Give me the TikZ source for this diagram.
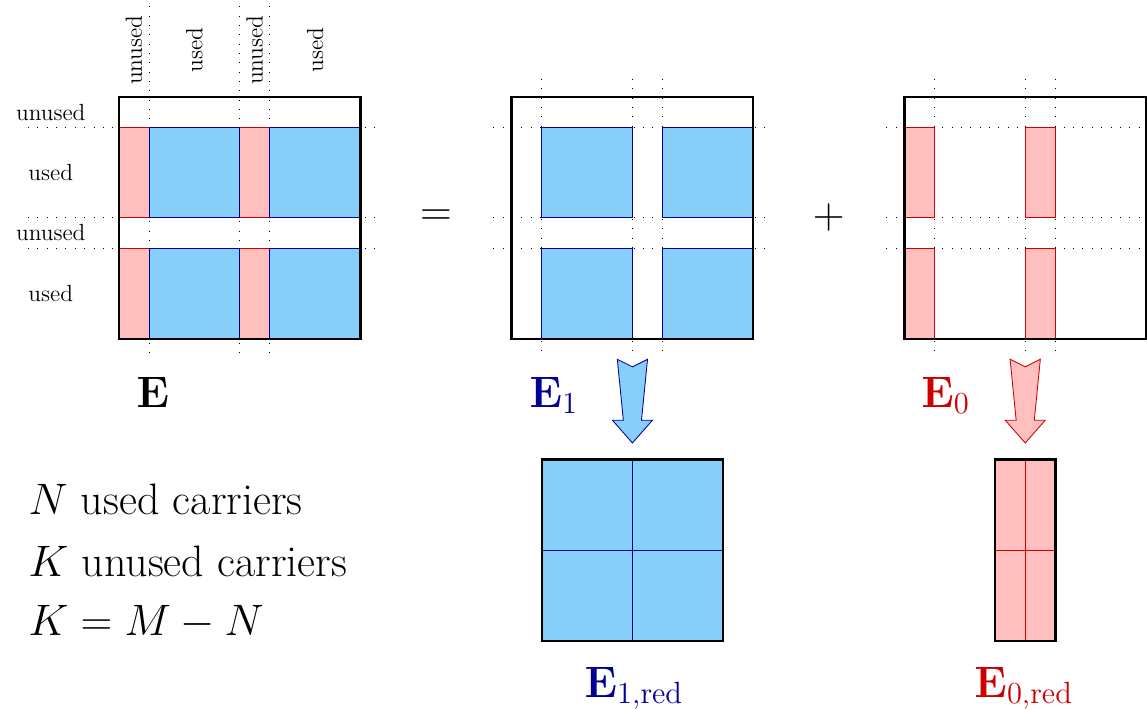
\documentclass[tikz,border=0pt]{standalone}
\usepackage{amsmath}
\usetikzlibrary{positioning}

\definecolor{usedblue}{RGB}{135,206,250}
\definecolor{darkblue}{RGB}{0,0,150}
\definecolor{unusedred}{RGB}{255,191,191}
\definecolor{darkred}{RGB}{205,0,0}

\begin{document}
\begin{tikzpicture}[x=0.5cm, y=0.5cm,
        usedblock/.style={fill=usedblue, draw=darkblue},
        unusedblock/.style={fill=unusedred, draw=darkred},
        carrierline/.style={loosely dotted},
        frame/.style={draw, line width=1.1pt, inner sep=0pt, outer sep=0pt, anchor=north west},
        small label/.style={font=\fontsize{11}{13}\selectfont},
        big label/.style={font=\huge, anchor=base west, inner sep=0pt}]

        \useasboundingbox (-3.93,3.21) rectangle (34.03,-20.25);

        % Dotted carrier lines of E
        \foreach \c in {1,4,5} \draw[carrierline] (\c,3) -- (\c,-8.6);
        \foreach \r in {-1,-4,-5} \draw[carrierline] (-3,\r) -- (8.6,\r);

        % Dotted carrier lines of E1 and E0
        \foreach \o in {13,26} {
            \foreach \c in {1,4,5} \draw[carrierline] (\o+\c,0.6) -- (\o+\c,-8.6);
            \foreach \r in {-1,-4,-5} \draw[carrierline] (\o-0.6,\r) -- (\o+8.6,\r);
        }

        % Unused columns (red), then used blocks (blue)
        \foreach \o in {0,26} \foreach \y in {-1,-5} {
            \draw[unusedblock] (\o,\y) rectangle (\o+1,\y-3);
            \draw[unusedblock] (\o+4,\y) rectangle (\o+5,\y-3);
        }
        \foreach \o in {0,13} \foreach \y in {-1,-5} {
            \draw[usedblock] (\o+1,\y) rectangle (\o+4,\y-3);
            \draw[usedblock] (\o+5,\y) rectangle (\o+8,\y-3);
        }

        % Matrix frames
        \node[frame, minimum size=4cm] (E) at (0,0) {};
        \node[frame, minimum size=4cm] (E1) at (13,0) {};
        \node[frame, minimum size=4cm] (E0) at (26,0) {};

        % Column labels
        \node[small label, rotate=90] (colA) at (0.5,1.55) {unused};
        \node[small label, rotate=90] (colB) at (2.5,1.55) {used};
        \node[small label, rotate=90] (colC) at (4.5,1.55) {unused};
        \node[small label, rotate=90] (colD) at (6.5,1.55) {used};

        % Row labels
        \node[small label] (rowA) at (-2.25,-0.5) {unused};
        \node[small label] (rowB) at (-2.25,-2.5) {used};
        \node[small label] (rowC) at (-2.25,-4.5) {unused};
        \node[small label] (rowD) at (-2.25,-6.5) {used};

        % Matrix names
        \node[big label] (nameE) at (0.58,-10.26) {$\mathbf{E}$};
        \node[big label, text=darkblue] (nameE1) at (13.58,-10.26) {$\mathbf{E}_1$};
        \node[big label, text=darkred] (nameE0) at (26.55,-10.26) {$\mathbf{E}_0$};

        % = and +
        \node[font=\huge] (eq) at (10.5,-4) {$=$};
        \node[font=\huge] (plus) at (23.5,-4) {$+$};

        % Reduction arrows
        \foreach \o/\sty in {13/usedblock, 26/unusedblock}
            \draw[\sty] (\o+3.5,-8.68) -- (\o+4,-8.93) -- (\o+4.5,-8.68) -- (\o+4.3,-10.7)
                -- (\o+4.66,-10.7) -- (\o+4,-11.45) -- (\o+3.34,-10.7) -- (\o+3.7,-10.7) -- cycle;

        % Reduced matrix E1,red
        \draw[usedblock] (14,-12) rectangle (20,-18);
        \draw[darkblue] (17,-12) -- (17,-18) (14,-15) -- (20,-15);
        \node[frame, minimum size=3cm] (E1red) at (14,-12) {};
        \node[font=\huge, anchor=base, text=darkblue] (nameE1red) at (17.05,-19.86) {$\mathbf{E}_{1,\text{red}}$};

        % Reduced matrix E0,red
        \draw[unusedblock] (29,-12) rectangle (31,-18);
        \draw[darkred] (30,-12) -- (30,-18) (29,-15) -- (31,-15);
        \node[frame, minimum width=1cm, minimum height=3cm] (E0red) at (29,-12) {};
        \node[font=\huge, anchor=base, text=darkred] (nameE0red) at (29.95,-19.86) {$\mathbf{E}_{0,\text{red}}$};

        % Carrier counts
        \node[big label] (used) at (-3.0,-13.81) {$N$ used carriers};
        \node[big label] (unused) at (-3.0,-15.86) {$K$ unused carriers};
        \node[big label] (relation) at (-3.0,-17.81) {$K = M - N$};

\end{tikzpicture}
\end{document}
